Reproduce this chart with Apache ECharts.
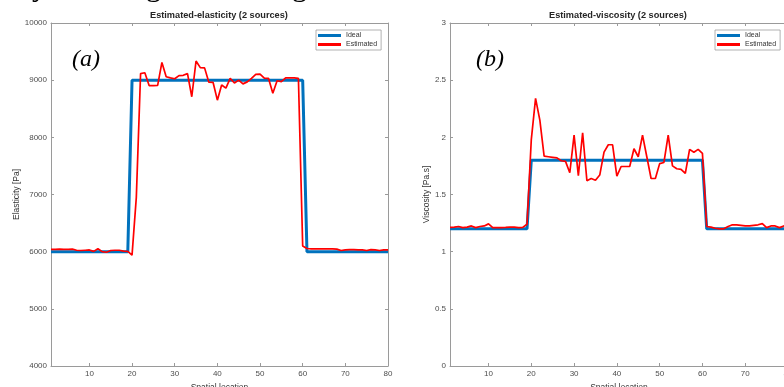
<!DOCTYPE html>
<html>
<head>
<meta charset="utf-8">
<script src="https://cdn.jsdelivr.net/npm/echarts@6/dist/echarts.min.js"></script>
<style>
  html, body { margin: 0; padding: 0; background: #fff; }
  #chart { width: 784px; height: 387px; }
</style>
</head>
<body>
<div id="chart"></div>
<script>
// spatial positions (x) shared by both panels
const positions = [1, 2, 3, 4, 5, 6, 7, 8, 9, 10, 11, 12, 13, 14, 15, 16, 17, 18, 19, 20,
  21, 22, 23, 24, 25, 26, 27, 28, 29, 30, 31, 32, 33, 34, 35, 36, 37, 38, 39, 40,
  41, 42, 43, 44, 45, 46, 47, 48, 49, 50, 51, 52, 53, 54, 55, 56, 57, 58, 59, 60,
  61, 62, 63, 64, 65, 66, 67, 68, 69, 70, 71, 72, 73, 74, 75, 76, 77, 78, 79, 80];

const xTicks = [10, 20, 30, 40, 50, 60, 70, 80];

// panel (a) - elasticity [Pa]
const idealElasticity = [6000, 6000, 6000, 6000, 6000, 6000, 6000, 6000, 6000, 6000,
  6000, 6000, 6000, 6000, 6000, 6000, 6000, 6000, 6000, 9000,
  9000, 9000, 9000, 9000, 9000, 9000, 9000, 9000, 9000, 9000,
  9000, 9000, 9000, 9000, 9000, 9000, 9000, 9000, 9000, 9000,
  9000, 9000, 9000, 9000, 9000, 9000, 9000, 9000, 9000, 9000,
  9000, 9000, 9000, 9000, 9000, 9000, 9000, 9000, 9000, 9000,
  6000, 6000, 6000, 6000, 6000, 6000, 6000, 6000, 6000, 6000,
  6000, 6000, 6000, 6000, 6000, 6000, 6000, 6000, 6000, 6000];
const estElasticity = [6040, 6040, 6045, 6040, 6040, 6045, 6025, 6020, 6025, 6030,
  6005, 6050, 6000, 5990, 6020, 6025, 6025, 6010, 6005, 5940,
  6950, 9115, 9130, 8905, 8905, 8910, 9310, 9060, 9040, 9025,
  9080, 9085, 9115, 8710, 9335, 9220, 9215, 8965, 8960, 8650,
  8915, 8860, 9030, 8950, 9000, 8935, 8970, 9030, 9100, 9105,
  9035, 9030, 8770, 8990, 8975, 9040, 9040, 9040, 9030, 6100,
  6055, 6050, 6050, 6050, 6050, 6050, 6050, 6045, 6020, 6030,
  6035, 6035, 6030, 6030, 6020, 6035, 6030, 6020, 6030, 6030];

// panel (b) - viscosity [Pa.s]
const idealViscosity = [1.2, 1.2, 1.2, 1.2, 1.2, 1.2, 1.2, 1.2, 1.2, 1.2,
  1.2, 1.2, 1.2, 1.2, 1.2, 1.2, 1.2, 1.2, 1.2, 1.8,
  1.8, 1.8, 1.8, 1.8, 1.8, 1.8, 1.8, 1.8, 1.8, 1.8,
  1.8, 1.8, 1.8, 1.8, 1.8, 1.8, 1.8, 1.8, 1.8, 1.8,
  1.8, 1.8, 1.8, 1.8, 1.8, 1.8, 1.8, 1.8, 1.8, 1.8,
  1.8, 1.8, 1.8, 1.8, 1.8, 1.8, 1.8, 1.8, 1.8, 1.8,
  1.2, 1.2, 1.2, 1.2, 1.2, 1.2, 1.2, 1.2, 1.2, 1.2,
  1.2, 1.2, 1.2, 1.2, 1.2, 1.2, 1.2, 1.2, 1.2, 1.2];
const estViscosity = [1.213, 1.215, 1.22, 1.21, 1.215, 1.225, 1.21, 1.22, 1.225, 1.243,
  1.21, 1.21, 1.21, 1.212, 1.215, 1.215, 1.21, 1.212, 1.24, 1.98,
  2.34, 2.15, 1.835, 1.83, 1.825, 1.82, 1.795, 1.79, 1.69, 2.02,
  1.665, 2.04, 1.62, 1.64, 1.625, 1.67, 1.87, 1.935, 1.935, 1.66,
  1.745, 1.745, 1.745, 1.90, 1.83, 2.02, 1.83, 1.64, 1.64, 1.77,
  1.78, 2.02, 1.75, 1.725, 1.72, 1.685, 1.895, 1.87, 1.895, 1.86,
  1.22, 1.215, 1.205, 1.2, 1.2, 1.22, 1.235, 1.235, 1.23, 1.225,
  1.225, 1.23, 1.235, 1.245, 1.21, 1.225, 1.225, 1.21, 1.225, 1.22];

const FONT = 'Liberation Sans, Arial, sans-serif';
const SERIF = 'Liberation Serif, Times New Roman, serif';
const AXIS_COLOR = '#9a9a9a';
const LABEL_COLOR = '#4d4d4d';

const pairs = (vals) => positions.map((x, i) => [x, vals[i]]);

function xAxisOf(grid, bottom) {
  return {
    gridIndex: grid,
    type: 'value',
    min: 1,
    max: 80,
    position: bottom ? 'bottom' : 'top',
    name: bottom ? 'Spatial location' : '',
    nameLocation: 'middle',
    nameGap: 15,
    nameTextStyle: { color: '#333', fontSize: 8.5, fontFamily: FONT },
    axisLine: { onZero: false, lineStyle: { color: AXIS_COLOR, width: 1 } },
    axisTick: { show: true, inside: true, length: 3, customValues: xTicks, lineStyle: { color: AXIS_COLOR } },
    axisLabel: { show: bottom, customValues: xTicks, margin: 4, color: LABEL_COLOR, fontSize: 8, fontFamily: FONT },
    splitLine: { show: false }
  };
}

function yAxisOf(grid, left, min, max, interval, name, gap) {
  return {
    gridIndex: grid,
    type: 'value',
    min: min,
    max: max,
    interval: interval,
    position: left ? 'left' : 'right',
    name: left ? name : '',
    nameLocation: 'middle',
    nameGap: gap,
    nameRotate: 90,
    nameTextStyle: { color: '#333', fontSize: 8.5, fontFamily: FONT },
    axisLine: { show: true, onZero: false, lineStyle: { color: AXIS_COLOR, width: 1 } },
    axisTick: { show: true, inside: true, length: 3, lineStyle: { color: AXIS_COLOR } },
    axisLabel: { show: left, margin: 4, color: LABEL_COLOR, fontSize: 8, fontFamily: FONT,
      formatter: (v) => String(v) },
    splitLine: { show: false }
  };
}

function legendOf(left) {
  return {
    left: left,
    top: 30,
    orient: 'vertical',
    data: ['Ideal', 'Estimated'],
    icon: 'rect',
    itemWidth: 23,
    itemHeight: 3,
    itemGap: 0,
    padding: [1, 4, 1, 2],
    backgroundColor: '#fff',
    borderColor: '#a0a0a0',
    borderWidth: 0.8,
    borderRadius: 0,
    selectedMode: false,
    textStyle: { color: '#333', fontSize: 7, lineHeight: 9, fontFamily: FONT }
  };
}

const lineSeries = (name, grid, vals) => ({
  name: name,
  type: 'line',
  xAxisIndex: grid * 2,
  yAxisIndex: grid * 2,
  data: pairs(vals),
  showSymbol: false,
  symbol: 'none',
  animation: false,
  z: name === 'Ideal' ? 2 : 3,
  lineStyle: name === 'Ideal'
    ? { color: '#0072BD', width: 3 }
    : { color: '#FF0000', width: 1.7 },
  itemStyle: { color: name === 'Ideal' ? '#0072BD' : '#FF0000' }
});

const captionGlyph = (ch, x) => ({
  type: 'text', x: x, y: -12,
  style: { text: ch, fontSize: 30, fontFamily: SERIF, fill: '#000', verticalAlign: 'middle' }
});

const chart = echarts.init(document.getElementById('chart'), null, { renderer: 'canvas' });
chart.setOption({
  animation: false,
  backgroundColor: '#fff',
  title: [
    { text: 'Estimated-elasticity (2 sources)', left: 150, top: 11, padding: 0,
      textStyle: { fontSize: 9.2, fontWeight: 'bold', color: '#262626', fontFamily: FONT } },
    { text: 'Estimated-viscosity (2 sources)', left: 549, top: 11, padding: 0,
      textStyle: { fontSize: 9.2, fontWeight: 'bold', color: '#262626', fontFamily: FONT } }
  ],
  legend: [legendOf(316), legendOf(715)],
  grid: [
    { left: 51, right: 396, top: 23, bottom: 21, outerBoundsMode: 'none' },
    { left: 450, right: -4, top: 23, bottom: 21, outerBoundsMode: 'none' }
  ],
  xAxis: [xAxisOf(0, true), xAxisOf(0, false), xAxisOf(1, true), xAxisOf(1, false)],
  yAxis: [
    yAxisOf(0, true, 4000, 10000, 1000, 'Elasticity [Pa]', 30),
    yAxisOf(0, false, 4000, 10000, 1000, '', 0),
    yAxisOf(1, true, 0, 3, 0.5, 'Viscosity [Pa.s]', 19),
    yAxisOf(1, false, 0, 3, 0.5, '', 0)
  ],
  series: [
    lineSeries('Ideal', 0, idealElasticity),
    lineSeries('Estimated', 0, estElasticity),
    lineSeries('Ideal', 1, idealViscosity),
    lineSeries('Estimated', 1, estViscosity)
  ],
  graphic: [
    { type: 'text', x: 72, y: 60, style: { text: '(a)', fontSize: 24, fontStyle: 'italic', fontFamily: SERIF, fill: '#000', verticalAlign: 'middle' } },
    { type: 'text', x: 476, y: 60, style: { text: '(b)', fontSize: 24, fontStyle: 'italic', fontFamily: SERIF, fill: '#000', verticalAlign: 'middle' } },
    // descenders of the caption line cropped off above the figure
    captionGlyph('y', 32),
    captionGlyph('g', 146),
    captionGlyph('g', 292)
  ]
});
</script>
</body>
</html>
